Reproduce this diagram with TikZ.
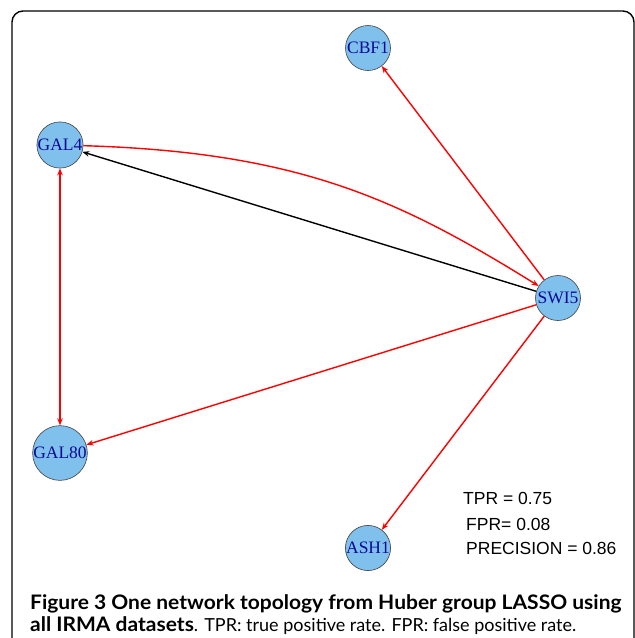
\documentclass[tikz,border=0pt]{standalone}
\usepackage{xcolor}
\usepackage{fontspec}
\setmainfont{Liberation Serif}
\newfontfamily\statfont{Liberation Sans}
\newfontfamily\capfont{Lato}
\newfontfamily\capboldfont[FakeStretch=1.05]{Lato}
\usepackage{tikz}
\usetikzlibrary{arrows.meta}

\definecolor{genefill}{RGB}{128,192,236}
\definecolor{genetext}{RGB}{10,10,150}

\begin{document}
\begin{tikzpicture}[x=1pt,y=-1pt,
		gene/.style={circle, draw=black!75, line width=0.6pt, fill=genefill,
			minimum size=45pt, inner sep=0pt, text=genetext,
			font=\fontsize{17.5}{18}\selectfont},
		edge/.style={line width=1.4pt, -{Stealth[length=7pt,width=5.5pt]}},
		stat/.style={anchor=base west, inner sep=0pt, font=\statfont\fontsize{17.5}{18}\selectfont},
		captext/.style={anchor=base west, inner sep=0pt}]
		\useasboundingbox (0,0) rectangle (635,638);
		% frame round the figure
		\draw[line width=1.4pt, rounded corners=11pt] (12,700) -- (12,11) -- (634,11) -- (634,700);
		
		% genes
		\node[gene] (cbf1) at (368,48) {CBF1};
		\node[gene] (gal4) at (60,145) {GAL4};
		\node[gene] (swi5) at (558,298) {SWI5};
		\node[gene] (gal80) at (60,453) {GAL80};
		\node[gene] (ash1) at (368,548) {ASH1};
		
		% edges
		\draw[edge, red] (swi5) -- (cbf1);
		\draw[edge, black] (swi5) -- (gal4);
		\draw[edge, red] (gal4) .. controls (300,152) and (400,200) .. (swi5);
		\draw[edge, red, {Stealth[length=7pt,width=5.5pt]}-{Stealth[length=7pt,width=5.5pt]}] (gal4) -- (gal80);
		\draw[edge, red] (swi5) -- (gal80);
		\draw[edge, red] (swi5) -- (ash1);
		
		% scores
		\node[stat] (tpr) at (463,504) {TPR = 0.75};
		\node[stat] (fpr) at (466,530) {FPR= 0.08};
		\node[stat] (prec) at (466,554) {PRECISION = 0.86};
		
		% caption
		\node[captext, font=\capboldfont\bfseries\fontsize{20}{21}\selectfont] (cap1) at (30,609)
			{Figure 3 One network topology from Huber group LASSO using};
		\node[captext] (cap2) at (30,631)
			{{\capboldfont\bfseries\fontsize{20}{21}\selectfont all IRMA datasets}{\capfont\fontsize{18}{21}\selectfont. TPR: true positive rate. FPR: false positive rate.}};
\end{tikzpicture}
\end{document}
